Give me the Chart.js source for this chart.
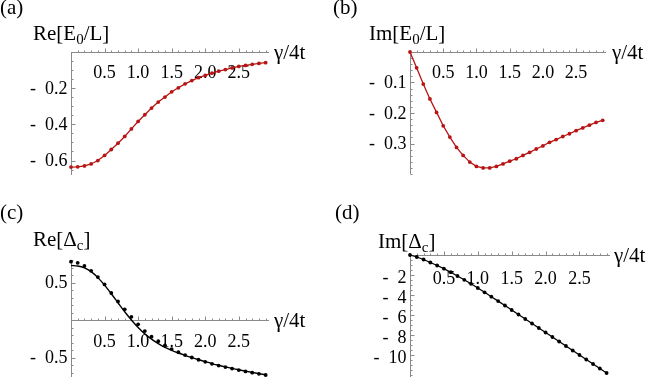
<!DOCTYPE html>
<html>
<head>
<meta charset="utf-8">
<script src="https://cdn.jsdelivr.net/npm/chart.js@4.4.0/dist/chart.umd.min.js"></script>
<style>
  body { margin: 0; background: #fff; width: 654px; height: 381px; overflow: hidden; position: relative; }
  canvas { position: absolute; }
</style>
</head>
<body>
<canvas id="pa" width="327" height="190" style="left:0;top:0"></canvas>
<canvas id="pb" width="327" height="190" style="left:327px;top:0"></canvas>
<canvas id="pc" width="327" height="191" style="left:0;top:190px"></canvas>
<canvas id="pd" width="327" height="191" style="left:327px;top:190px"></canvas>
<script>
// gamma/4t grid shared by all panels
const gamma = [0, 0.1, 0.2, 0.3, 0.4, 0.5, 0.6, 0.7, 0.8, 0.9, 1.0, 1.1, 1.2, 1.3, 1.4,
  1.5, 1.6, 1.7, 1.8, 1.9, 2.0, 2.1, 2.2, 2.3, 2.4, 2.5, 2.6, 2.7, 2.8, 2.9];

const reE0 = [-0.636, -0.635, -0.63, -0.619, -0.6, -0.572, -0.539, -0.504, -0.467, -0.425,
  -0.384, -0.347, -0.31, -0.277, -0.249, -0.22, -0.198, -0.176, -0.158, -0.142,
  -0.129, -0.117, -0.106, -0.097, -0.088, -0.08, -0.074, -0.068, -0.063, -0.059];

const imE0 = [0, -0.052, -0.105, -0.154, -0.198, -0.242, -0.279, -0.313, -0.339, -0.361,
  -0.375, -0.38, -0.38, -0.375, -0.367, -0.358, -0.35, -0.339, -0.329, -0.318,
  -0.308, -0.296, -0.287, -0.277, -0.268, -0.258, -0.249, -0.24, -0.231, -0.224];

const reDcDots = [0.778, 0.762, 0.72, 0.656, 0.572, 0.475, 0.36, 0.248, 0.142, 0.043,
  -0.058, -0.148, -0.222, -0.283, -0.338, -0.388, -0.43, -0.467, -0.5, -0.53,
  -0.558, -0.584, -0.607, -0.628, -0.648, -0.667, -0.685, -0.702, -0.718, -0.733];

const reDcLine = [0.727, 0.72, 0.695, 0.645, 0.565, 0.465, 0.35, 0.23, 0.11, 0.0,
  -0.1, -0.185, -0.255, -0.315, -0.365, -0.405, -0.44, -0.472, -0.502, -0.53,
  -0.556, -0.581, -0.604, -0.625, -0.645, -0.664, -0.682, -0.699, -0.715, -0.73];

const imDc = [0, -0.2, -0.45, -0.75, -1.05, -1.37, -1.72, -2.1, -2.48, -2.88,
  -3.3, -3.73, -4.17, -4.61, -5.05, -5.5, -5.95, -6.4, -6.85, -7.3,
  -7.75, -8.2, -8.65, -9.1, -9.55, -10.0, -10.45, -10.9, -11.35, -11.8];

const xTicks = [0.5, 1.0, 1.5, 2.0, 2.5];
const yTicksA = [-0.2, -0.4, -0.6];
const yTicksB = [-0.1, -0.2, -0.3];
const yTicksC = [0.5, -0.5];
const yTicksD = [-2, -4, -6, -8, -10];

const RED = '#b81414';
const FONT = '"Liberation Serif"';

const pts = (ys) => gamma.map((g, i) => ({ x: g, y: ys[i] }));

// Mathematica style negative labels: "-  0.2"
const fmt = (v, dec) => (v < 0 ? '-\u2002' : '') + Math.abs(v).toFixed(dec);

// text with optional subscripts: parts = [[text, isSub], ...]
const drawRich = (ctx, parts, x, y, size) => {
  let cx = x;
  parts.forEach(([t, sub]) => {
    const s = Math.round(sub ? size * 0.7 : size);
    ctx.font = `${s}px ${FONT}`;
    ctx.fillText(t, cx, sub ? y + Math.round(size * 0.18) : y);
    cx += ctx.measureText(t).width;
  });
};

const axesPlugin = {
  id: 'mmaAxes',
  beforeDatasetsDraw(chart, args, o) {
    const ctx = chart.ctx;
    const xs = chart.scales.x, ys = chart.scales.y;
    const x0 = Math.round(xs.getPixelForValue(0)) + 0.5;
    const y0 = Math.round(ys.getPixelForValue(0)) + 0.5;
    ctx.save();
    ctx.strokeStyle = '#8a8a8a';
    ctx.lineWidth = 1;
    ctx.beginPath();
    ctx.moveTo(x0, y0); ctx.lineTo(xs.right, y0);
    ctx.moveTo(x0, ys.top); ctx.lineTo(x0, ys.bottom);
    // x ticks, pointing up
    for (let k = 1; k * 0.1 <= xs.max + 1e-9; k++) {
      const px = Math.round(xs.getPixelForValue(k * 0.1)) + 0.5;
      const len = k % 5 === 0 ? 4 : 2;
      ctx.moveTo(px, y0); ctx.lineTo(px, y0 - len);
    }
    // y ticks, pointing right
    const step = o.yMinor;
    for (let k = -200; k <= 200; k++) {
      const v = k * step;
      if (k === 0 || v < ys.min || v > ys.max) continue;
      const py = Math.round(ys.getPixelForValue(v)) + 0.5;
      const major = o.yTicks.some((t) => Math.abs(t - v) < step / 10);
      ctx.moveTo(x0, py); ctx.lineTo(x0 + (major ? 4 : 2), py);
    }
    ctx.stroke();

    ctx.fillStyle = '#000';
    ctx.font = `18px ${FONT}`;
    ctx.textAlign = 'center';
    ctx.textBaseline = 'alphabetic';
    xTicks.forEach((t) => ctx.fillText(t.toFixed(1), xs.getPixelForValue(t), y0 + o.xLabelDrop));
    ctx.textAlign = 'right';
    ctx.textBaseline = 'middle';
    o.yTicks.forEach((t) => ctx.fillText(fmt(t, o.dec), x0 - 4, ys.getPixelForValue(t) + o.yLabelShift));

    ctx.textAlign = 'left';
    ctx.textBaseline = 'alphabetic';
    drawRich(ctx, [[o.tag, false]], o.tagPos[0], o.tagPos[1], 21);
    drawRich(ctx, o.yTitle, o.yTitlePos[0], o.yTitlePos[1], 21);
    drawRich(ctx, [['γ/4t', false]], o.xTitlePos[0], y0 + 6, 21);
    ctx.restore();
  }
};

const makeChart = (id, datasets, yMin, yMax, padding, opts) => new Chart(document.getElementById(id), {
  type: 'line',
  data: { datasets },
  options: {
    responsive: false,
    animation: false,
    layout: { padding },
    plugins: { legend: { display: false }, tooltip: { enabled: false }, mmaAxes: opts },
    scales: {
      x: { type: 'linear', min: 0, max: 2.95, display: false },
      y: { type: 'linear', min: yMin, max: yMax, display: false }
    }
  },
  plugins: [axesPlugin]
});

const lineDots = (ys, color) => ({
  data: pts(ys), borderColor: color, backgroundColor: color, borderWidth: 1.3,
  pointRadius: 1.9, pointBorderWidth: 0, pointBackgroundColor: color, clip: false, tension: 0
});

makeChart('pa', [lineDots(reE0, RED)], -0.68, 0,
  { left: 71, right: 58, top: 52, bottom: 15 },
  { tag: '(a)', tagPos: [0, 14], yTitle: [['Re[E', false], ['0', true], ['/L]', false]], yTitlePos: [33, 40],
    xTitlePos: [274, 0], yTicks: yTicksA, yMinor: 0.05, dec: 1, xLabelDrop: 25, yLabelShift: 1 });

makeChart('pb', [lineDots(imE0, RED)], -0.4, 0,
  { left: 83, right: 48, top: 52, bottom: 16 },
  { tag: '(b)', tagPos: [6, 14], yTitle: [['Im[E', false], ['0', true], ['/L]', false]], yTitlePos: [42, 40],
    xTitlePos: [285, 0], yTicks: yTicksB, yMinor: 0.02, dec: 1, xLabelDrop: 25, yLabelShift: 1 });

makeChart('pc', [
  { data: pts(reDcLine), borderColor: '#000', borderWidth: 1.4, pointRadius: 0, clip: false, tension: 0.3 },
  { data: pts(reDcDots), showLine: false, pointRadius: 1.9, pointBorderWidth: 0, pointBackgroundColor: '#000', clip: false }
], -0.76, 0.8,
  { left: 71, right: 58, top: 70, bottom: 0 },
  { tag: '(c)', tagPos: [0, 29], yTitle: [['Re[Δ', false], ['c', true], [']', false]], yTitlePos: [33, 56],
    xTitlePos: [274, 0], yTicks: yTicksC, yMinor: 0.1, dec: 1, xLabelDrop: 26, yLabelShift: 1 });

makeChart('pd', [lineDots(imDc, '#000')], -12.2, 0,
  { left: 83, right: 44, top: 65, bottom: 2 },
  { tag: '(d)', tagPos: [8, 29], yTitle: [['Im[Δ', false], ['c', true], [']', false]], yTitlePos: [51, 58],
    xTitlePos: [287, 0], yTicks: yTicksD, yMinor: 0.5, dec: 0, xLabelDrop: 28, yLabelShift: 3 });
</script>
</body>
</html>
